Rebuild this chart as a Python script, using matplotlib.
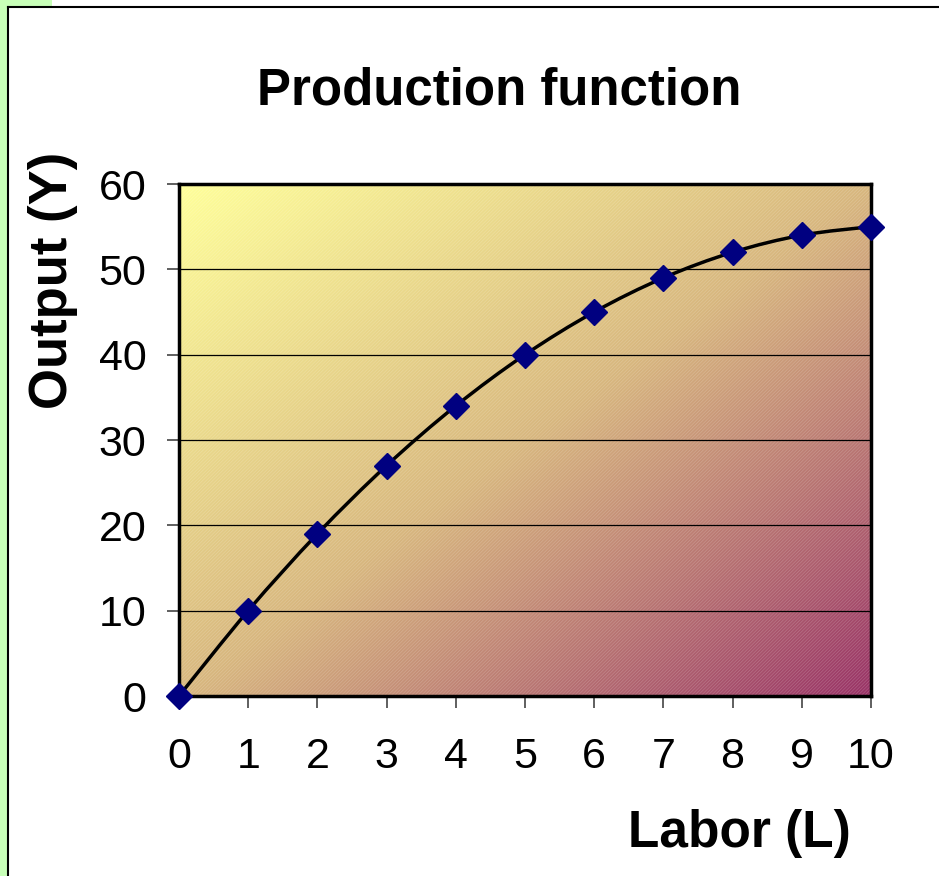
"""Production function chart: output against labor input."""

import matplotlib

matplotlib.use("Agg")
import matplotlib.pyplot as plt
import numpy as np
from matplotlib.colors import LinearSegmentedColormap
from matplotlib.patches import PathPatch, Rectangle
from matplotlib.path import Path

plt.rcParams["font.family"] = ["Liberation Sans", "DejaVu Sans"]
plt.rcParams["hatch.linewidth"] = 0.5

labor = [0, 1, 2, 3, 4, 5, 6, 7, 8, 9, 10]
output = [0, 10, 19, 27, 34, 40, 45, 49, 52, 54, 55]
x_ticks = [0, 1, 2, 3, 4, 5, 6, 7, 8, 9, 10]
y_ticks = [0, 10, 20, 30, 40, 50, 60]


def smooth_path(xs, ys, tension=1 / 6):
    # cubic Bezier segments through the points (Catmull-Rom style)
    pts = np.column_stack([xs, ys]).astype(float)
    verts = [pts[0]]
    codes = [Path.MOVETO]
    n = len(pts)
    for i in range(n - 1):
        p0 = pts[max(i - 1, 0)]
        p1 = pts[i]
        p2 = pts[i + 1]
        p3 = pts[min(i + 2, n - 1)]
        c1 = p1 + (p2 - p0) * tension
        c2 = p2 - (p3 - p1) * tension
        verts += [c1, c2, p2]
        codes += [Path.CURVE4] * 3
    return Path(verts, codes)


fig = plt.figure(figsize=(9.39, 8.76), dpi=100)

# slide remnants: green strip and black frame
fig.patches.append(Rectangle((0, 0), 7 / 939, 1, transform=fig.transFigure,
                             facecolor="#c8ffb8", edgecolor="none"))
fig.patches.append(Rectangle((0, 1 - 6 / 876), 52 / 939, 6 / 876,
                             transform=fig.transFigure,
                             facecolor="#c8ffb8", edgecolor="none"))
fig.lines.append(plt.Line2D([7.5 / 939, 7.5 / 939], [0, 1 - 6.5 / 876],
                            transform=fig.transFigure, color="black", lw=1.5))
fig.lines.append(plt.Line2D([7.5 / 939, 1], [1 - 6.5 / 876, 1 - 6.5 / 876],
                            transform=fig.transFigure, color="black", lw=1.5))

ax = fig.add_axes([179 / 939, 1 - 696 / 876, 692 / 939, 512 / 876])

# diagonal gradient background from pale yellow to plum
cmap = LinearSegmentedColormap.from_list(
    "bg", [(0.0, "#ffff99"), (0.5, "#d8b77e"), (1.0, "#993366")])
gx, gy = np.meshgrid(np.linspace(0, 1, 300), np.linspace(0, 1, 300))
ax.imshow((gx + gy) / 2, cmap=cmap, extent=[0, 1, 0, 1], origin="upper",
          transform=ax.transAxes, aspect="auto", zorder=0, interpolation="bilinear")
ax.add_patch(Rectangle((0, 0), 1, 1, transform=ax.transAxes, facecolor="none",
                       edgecolor=(1, 1, 1, 0.2), hatch="//////////", lw=0, zorder=0.5))

ax.set_xlim(0, 10)
ax.set_ylim(0, 60)
ax.set_xticks(x_ticks)
ax.set_yticks(y_ticks)
ax.yaxis.grid(True, color="black", lw=0.9)
ax.set_axisbelow(True)
for sp in ax.spines.values():
    sp.set_linewidth(2.5)
    sp.set_color("black")
    sp.set_zorder(3)

ax.tick_params(axis="both", direction="out", length=8.5, width=1.2, color="#444444",
               labelsize=31)
ax.tick_params(axis="y", pad=15)
ax.tick_params(axis="x", pad=21)

ax.add_patch(PathPatch(smooth_path(labor, output), facecolor="none",
                       edgecolor="black", lw=2.5, zorder=4, clip_on=False))
ax.plot(labor, output, linestyle="none", marker="D", ms=13, color="#000080",
        zorder=5, clip_on=False)

fig.text(499 / 939, 1 - 91 / 876, "Production function", ha="center", va="center",
         fontsize=36.7, fontweight="bold")
fig.text(739 / 939, 1 - 833 / 876, "Labor (L)", ha="center", va="center",
         fontsize=37, fontweight="bold")
fig.text(53 / 939, 1 - 280 / 876, "Output (Y)", ha="center", va="center",
         rotation=90, fontsize=38, fontweight="bold")

fig.savefig("out.png", dpi=100, facecolor="white")
